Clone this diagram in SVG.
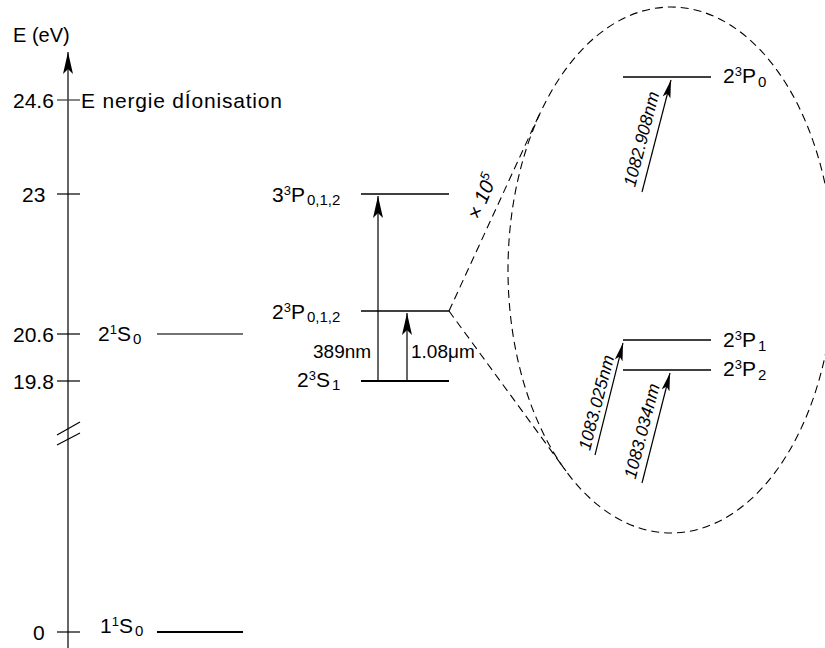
<svg xmlns="http://www.w3.org/2000/svg" width="825" height="648" viewBox="0 0 825 648">
<style>
text{font-family:"Liberation Sans",Arial,sans-serif;fill:#000;font-size:21px}
.sm{font-size:19px}
.ax{font-size:20px}
.rot{font-size:17.5px;font-style:italic}
.x10{font-size:20px;font-style:italic}
.sup{font-size:13px}
.sub{font-size:15px}
.lvl{stroke:#000;stroke-width:1.3;fill:none}
.thick{stroke:#000;stroke-width:2.2;fill:none}
.gray{stroke:#444;stroke-width:1.3;fill:none}
.tick{stroke:#000;stroke-width:1.2;fill:none}
.dash{stroke:#000;stroke-width:1.1;fill:none;stroke-dasharray:8 5}
.arr{stroke:#000;stroke-width:1.2;fill:none}
</style>
<defs>
<marker id="ah" markerUnits="userSpaceOnUse" viewBox="0 0 22 10" refX="22" refY="5" markerWidth="22" markerHeight="10" orient="auto"><path d="M0,0 L22,5 L0,10 L5,5 Z" fill="#000"/></marker>
<marker id="ahs" markerUnits="userSpaceOnUse" viewBox="0 0 18 8" refX="18" refY="4" markerWidth="18" markerHeight="8" orient="auto"><path d="M0,0 L18,4 L0,8 L4,4 Z" fill="#000"/></marker>
</defs>

<g id="axis">
<line class="arr" x1="68" y1="648" x2="68" y2="52" marker-end="url(#ah)"/>
<text class="ax" x="13" y="42">E (eV)</text>
<line class="gray" x1="57" y1="100" x2="80" y2="100"/>
<text x="13" y="108">24.6</text>
<line class="tick" x1="57" y1="194" x2="80" y2="194"/>
<text x="22" y="202">23</text>
<line class="tick" x1="57" y1="334" x2="80" y2="334"/>
<text x="13" y="342">20.6</text>
<line class="tick" x1="57" y1="381" x2="80" y2="381"/>
<text x="13" y="389">19.8</text>
<line class="tick" x1="57" y1="435" x2="80" y2="422"/>
<line class="tick" x1="57" y1="445" x2="80" y2="433"/>
<line class="tick" x1="57" y1="632" x2="80" y2="632"/>
<text x="33" y="640">0</text>
</g>

<g id="ionisation">
<text x="81" y="108" textLength="201" lengthAdjust="spacing">E nergie dÍonisation</text>
</g>

<g id="level-2-1S0">
<text x="98" y="341">2<tspan class="sup" dy="-7">1</tspan><tspan dy="7">S</tspan><tspan class="sub" dx="2" dy="3">0</tspan></text>
<line class="gray" x1="157" y1="334" x2="243" y2="334"/>
</g>

<g id="level-1-1S0">
<text x="100" y="633">1<tspan class="sup" dy="-7">1</tspan><tspan dy="7">S</tspan><tspan class="sub" dx="2" dy="3">0</tspan></text>
<line class="thick" x1="157" y1="632" x2="243" y2="632"/>
</g>

<g id="level-3-3P">
<text x="272" y="202">3<tspan class="sup" dy="-7">3</tspan><tspan dy="7">P</tspan><tspan class="sub" dx="2" dy="3">0,1,2</tspan></text>
<line class="lvl" x1="361" y1="194" x2="449" y2="194"/>
</g>

<g id="level-2-3P">
<text x="272" y="319">2<tspan class="sup" dy="-7">3</tspan><tspan dy="7">P</tspan><tspan class="sub" dx="2" dy="3">0,1,2</tspan></text>
<line class="lvl" x1="361" y1="311" x2="449" y2="311"/>
</g>

<g id="level-2-3S1">
<text x="297" y="387">2<tspan class="sup" dy="-7">3</tspan><tspan dy="7">S</tspan><tspan class="sub" dx="2" dy="3">1</tspan></text>
<line class="thick" x1="361" y1="381" x2="449" y2="381"/>
</g>

<g id="level-2-3P0">
<line class="lvl" x1="623" y1="77" x2="711" y2="77"/>
<text x="723" y="83">2<tspan class="sup" dy="-7">3</tspan><tspan dy="7">P</tspan><tspan class="sub" dx="2" dy="4">0</tspan></text>
</g>

<g id="level-2-3P1">
<line class="lvl" x1="623" y1="340" x2="711" y2="340"/>
<text x="723" y="347">2<tspan class="sup" dy="-7">3</tspan><tspan dy="7">P</tspan><tspan class="sub" dx="2" dy="4">1</tspan></text>
</g>

<g id="level-2-3P2">
<line class="lvl" x1="623" y1="370" x2="711" y2="370"/>
<text x="723" y="376">2<tspan class="sup" dy="-7">3</tspan><tspan dy="7">P</tspan><tspan class="sub" dx="2" dy="4">2</tspan></text>
</g>

<g id="connectors">
<line class="arr" x1="378" y1="381" x2="378" y2="196" marker-end="url(#ah)"/>
<line class="arr" x1="407" y1="381" x2="407" y2="313" marker-end="url(#ah)"/>
<line class="arr" x1="642" y1="192" x2="671" y2="80" marker-end="url(#ahs)"/>
<line class="arr" x1="595" y1="455" x2="623" y2="343" marker-end="url(#ahs)"/>
<line class="arr" x1="642" y1="483" x2="670" y2="373" marker-end="url(#ahs)"/>
<path class="dash" d="M449,311 L540,113"/>
<path class="dash" d="M449,311 L566,471"/>
<ellipse class="dash" cx="671" cy="270" rx="163" ry="263"/>
</g>

<g id="labels">
<text class="sm" x="313" y="358">389nm</text>
<text class="sm" x="411" y="358">1.08μm</text>
<text class="x10" text-anchor="middle" transform="translate(488.4,199.2) rotate(-66.8)">× 10<tspan class="sup" dy="-8">5</tspan></text>
<text class="rot" text-anchor="middle" transform="translate(647.1,140.6) rotate(-75.5)">1082.908nm</text>
<text class="rot" text-anchor="middle" transform="translate(602.1,404.1) rotate(-75.5)">1083.025nm</text>
<text class="rot" text-anchor="middle" transform="translate(647.6,432.6) rotate(-75.5)">1083.034nm</text>
</g>
</svg>
